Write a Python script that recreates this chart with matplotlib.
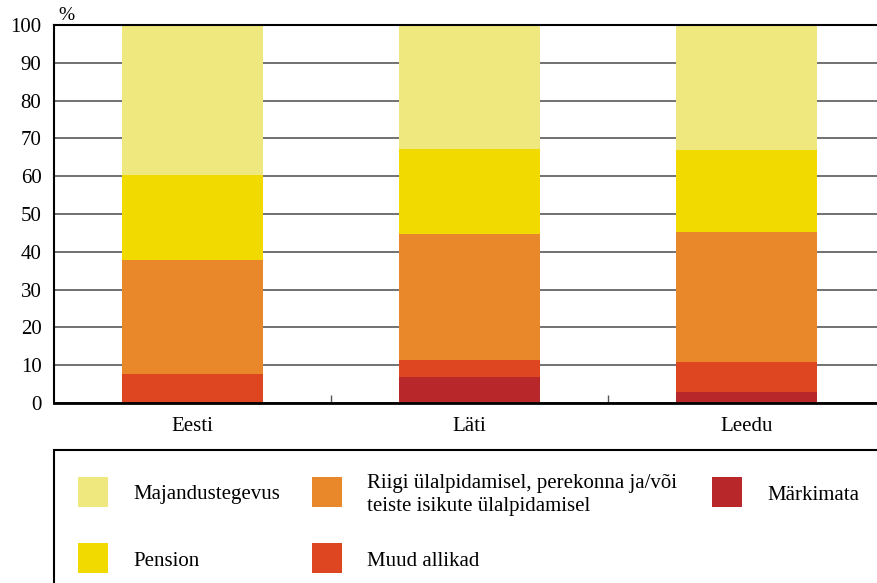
"""Stacked income-source shares for Estonia, Latvia and Lithuania."""

import matplotlib

matplotlib.use("Agg")
import matplotlib.pyplot as plt
from matplotlib.patches import Rectangle
import numpy as np

plt.rcParams["font.family"] = ["Liberation Serif", "DejaVu Serif"]

countries = ["Eesti", "Läti", "Leedu"]

# stacked bottom -> top
markimata = [0.3, 6.9, 2.9]
muud_allikad = [7.4, 4.5, 7.9]
riigi = [30.1, 33.3, 34.4]
pension = [22.5, 22.5, 21.7]
majandus = [39.7, 32.8, 33.1]

series = [
    ("Märkimata", markimata, "#B8282A"),
    ("Muud allikad", muud_allikad, "#DE4622"),
    ("Riigi ülalpidamisel, perekonna ja/või\nteiste isikute ülalpidamisel", riigi, "#E8882A"),
    ("Pension", pension, "#F0DA00"),
    ("Majandustegevus", majandus, "#EFE87E"),
]

W, H = 878, 583
fig = plt.figure(figsize=(W / 100, H / 100), dpi=100)

x = np.arange(len(countries))
spacing = 277
left_px, top_px, bottom_px = 54, 25, 403
ax = fig.add_axes([
    left_px / W,
    1 - bottom_px / H,
    3 * spacing / W,
    (bottom_px - top_px) / H,
])

bottom = np.zeros(len(countries))
for name, vals, color in series:
    ax.bar(x, vals, width=0.51, bottom=bottom, color=color, linewidth=0, zorder=2)
    bottom += np.array(vals)

ax.set_xlim(-0.5, 2.5)
ax.set_ylim(0, 100)
ax.set_yticks(np.arange(0, 101, 10))
ax.yaxis.grid(True, color="#4a4a4a", linewidth=1.1, zorder=0)
ax.set_axisbelow(True)
ax.tick_params(axis="y", length=0, pad=9, labelsize=15)
ax.set_xticks(x)
ax.set_xticklabels(countries)
ax.tick_params(axis="x", length=0, pad=10, labelsize=15)
ax.set_xticks([0.5, 1.5], minor=True)
ax.tick_params(axis="x", which="minor", direction="in", length=6, width=1, color="#555555")

for side in ["left", "top"]:
    ax.spines[side].set_linewidth(1.5)
ax.spines["bottom"].set_linewidth(2)
ax.spines["right"].set_visible(False)
for s in ax.spines.values():
    s.set_zorder(3)

fig.text(58 / W, 1 - 16 / H, "%", fontsize=14, ha="left", va="center")

# legend box, running past the right and bottom edges
fig.add_artist(Rectangle((54 / W, -0.1), 1.0, 1 - 450 / H + 0.1,
                         transform=fig.transFigure, fill=False,
                         edgecolor="black", linewidth=1.5))

legend_order = [4, 2, 0, 3, 1]
legend_pos = [(78, 492), (312, 492), (712, 492), (78, 558), (312, 558)]
for idx, (px, py) in zip(legend_order, legend_pos):
    name, _, color = series[idx]
    fig.add_artist(Rectangle((px / W, 1 - (py + 15) / H), 30 / W, 30 / H,
                             transform=fig.transFigure, color=color, linewidth=0))
    fig.text((px + 55) / W, 1 - (py + 3) / H, name, fontsize=15,
             ha="left", va="center", linespacing=1.35)

fig.savefig("out.png", dpi=100)
